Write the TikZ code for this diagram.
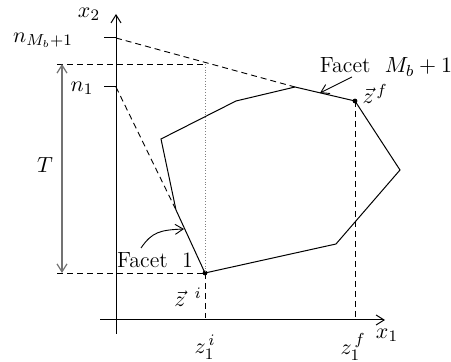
\documentclass[tikz,border=0pt]{standalone}
\usetikzlibrary{arrows.meta}
\begin{document}
\begin{tikzpicture}[x=0.5pt,y=-0.5pt,
  every node/.style={font=\fontsize{11}{13}\selectfont},
  ax/.style={line width=0.5pt,-{Straight Barb[length=4pt,width=5pt]}},
  guide/.style={dashed,line width=0.45pt,dash pattern=on 3pt off 2pt},
  poly/.style={line width=0.5pt},
  lbl/.style={inner sep=0pt},
  pt/.style={circle,fill=black,inner sep=0pt,minimum size=2.4pt},
  farrow/.style={line width=0.45pt,-{Straight Barb[length=4pt,width=5pt]}}]
\useasboundingbox (0,0) rectangle (451,362);
% axes
\coordinate (o2) at (116,334);
\coordinate (t2) at (116,14);
\coordinate (o1) at (100,320);
\coordinate (t1) at (385,320);
\draw[ax] (o2) -- (t2);
\draw[ax] (o1) -- (t1);
\node[lbl] (x2) at (89,14) {$x_2$};
\node[lbl] (x1) at (387,335) {$x_1$};
% ticks
\coordinate (nM) at (116,38);
\coordinate (nMl) at (104,38);
\coordinate (n1) at (116,87);
\coordinate (n1l) at (104,87);
\draw[line width=0.5pt] (nMl) -- (nM);
\draw[line width=0.5pt] (n1l) -- (n1);
\node[lbl] (lnM) at (43,40) {$n_{M_b+1}$};
\node[lbl] (ln1) at (82,88) {$n_1$};
% polygon vertices
\coordinate (a) at (161,139);
\coordinate (b) at (176,210);
\node[pt] (zi) at (205,273) {};
\coordinate (c) at (336,244);
\coordinate (d) at (400,170);
\node[pt] (zf) at (355,101) {};
\coordinate (e) at (295,87);
\coordinate (f) at (236,101);
\draw[poly] (a) -- (b) -- (zi.center) -- (c) -- (d) -- (zf.center) -- (e) -- (f) -- cycle;
% dashed facet extensions
\draw[guide] (nM) -- (e);
\draw[guide] (n1) -- (b);
% T level lines
\coordinate (Ttop) at (57,64);
\coordinate (Ttopr) at (205,64);
\coordinate (Tbot) at (57,273);
\draw[guide] (Ttop) -- (Ttopr);
\draw[guide] (Tbot) -- (zi.center);
\draw[densely dotted,line width=0.4pt,gray] (Ttopr) -- (zi.center);
% T arrow
\coordinate (Ta) at (62,64);
\coordinate (Tb) at (62,273);
\draw[gray!90!black,line width=0.6pt,{Straight Barb[length=4pt,width=5pt]}-{Straight Barb[length=4pt,width=5pt]}] (Ta) -- (Tb);
\node[lbl] (T) at (45,165) {$T$};
% projections
\coordinate (zi1) at (205,318);
\coordinate (zf1) at (355,318);
\draw[guide] (zi.center) -- (zi1);
\draw[guide] (zf.center) -- (zf1);
\node[lbl] (lzi1) at (205,347) {$z_1^{\,i}$};
\node[lbl] (lzf1) at (353,347) {$z_1^{\,f}$};
% point labels
\node[lbl] (lzi) at (188,297) {$\vec z^{\;\;i}$};
\node[lbl] (lzf) at (375,94) {$\vec z^{\,f}$};
% facet labels
\node[lbl] (F2) at (386,67) {Facet~~$M_b+1$};
\node[lbl] (F1) at (155,260) {Facet~~1};
\coordinate (F2s) at (352,77);
\coordinate (F2t) at (320,93);
\draw[farrow] (F2s) -- (F2t);
\coordinate (F1s) at (141,248);
\coordinate (F1t) at (184,229);
\draw[farrow] (F1s) .. controls (152,232) and (160,230) .. (F1t);
\end{tikzpicture}
\end{document}
